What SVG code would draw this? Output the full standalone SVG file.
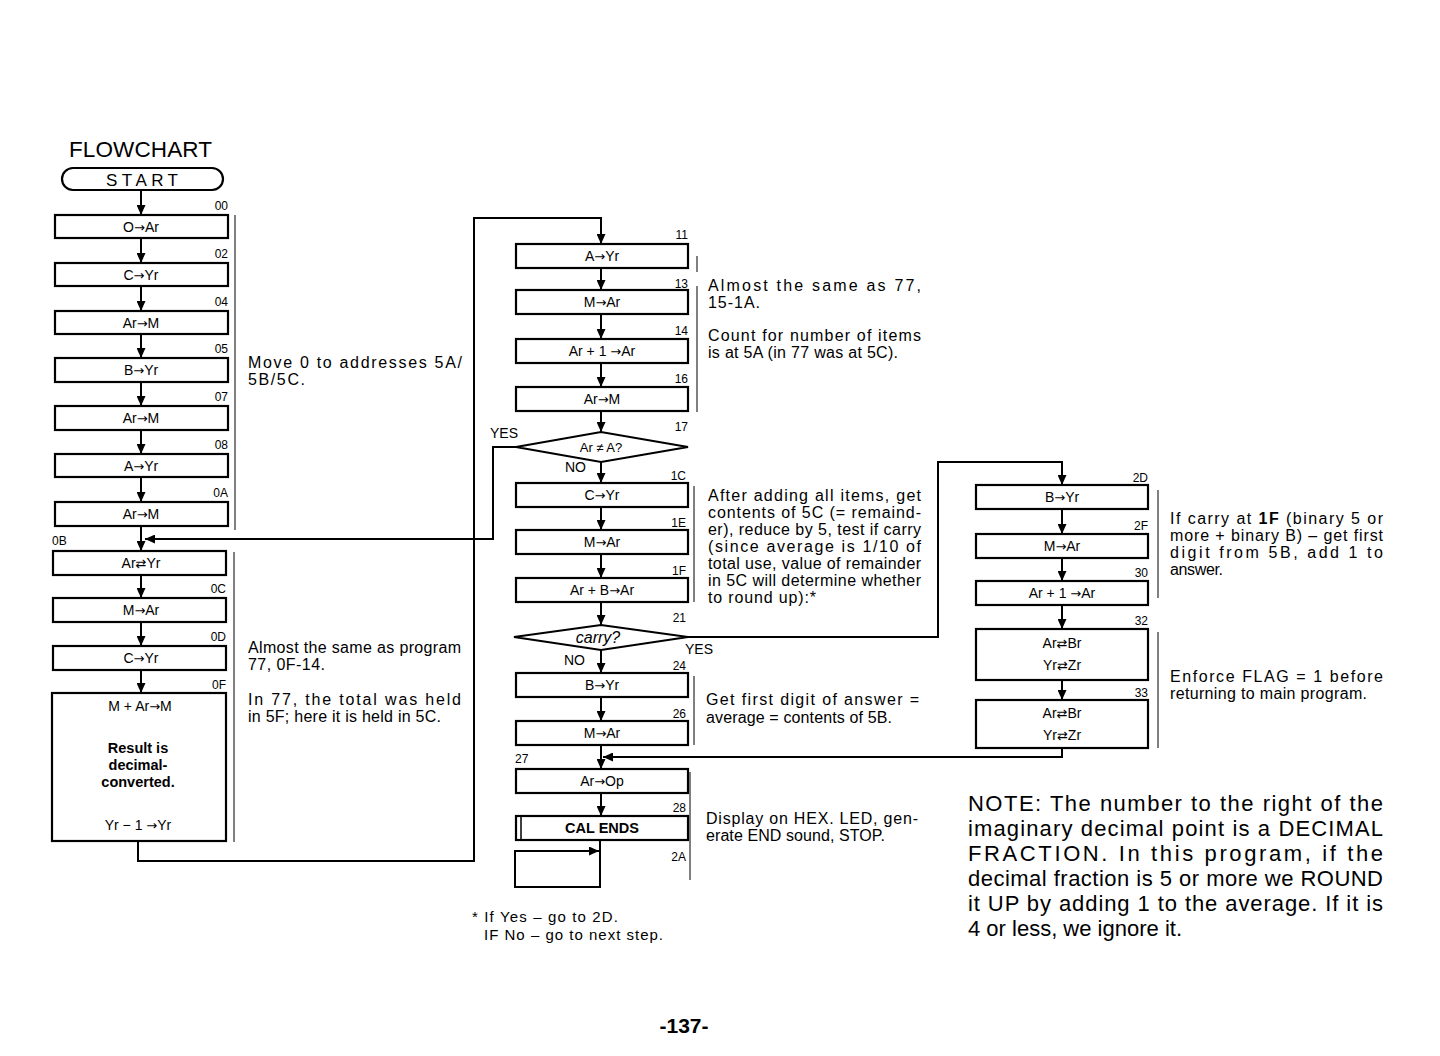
<svg xmlns="http://www.w3.org/2000/svg" width="1440" height="1056" viewBox="0 0 1440 1056">
<defs>
<marker id="ah" markerUnits="userSpaceOnUse" markerWidth="10" markerHeight="9" refX="10" refY="4.5" orient="auto">
<path d="M0,0 L10,4.5 L0,9 z" fill="#000"/>
</marker>
<style>
.bx{fill:#fff;stroke:#000;stroke-width:2.2}
.t{font-family:"Liberation Sans",Arial,sans-serif;font-size:14px;fill:#000;text-anchor:middle}
.ar{font-family:"DejaVu Sans",sans-serif;font-size:13px}
.b{font-weight:bold;font-size:14.5px}
.lb{font-family:"Liberation Sans",Arial,sans-serif;font-size:12px;fill:#000;text-anchor:end}
.lbs{font-family:"Liberation Sans",Arial,sans-serif;font-size:12px;fill:#000}
.yn{font-family:"Liberation Sans",Arial,sans-serif;font-size:14px;fill:#000}
.n{font-family:"Liberation Sans",Arial,sans-serif;font-size:16px;fill:#000}
.fn{font-family:"Liberation Sans",Arial,sans-serif;font-size:15px;fill:#000}
.note{font-family:"Liberation Sans",Arial,sans-serif;font-size:22px;fill:#000}
.c{fill:none;stroke:#000;stroke-width:2}
.ca{fill:none;stroke:#000;stroke-width:2;marker-end:url(#ah)}
.br{fill:none;stroke:#000;stroke-width:1}
</style>
</defs>
<rect width="1440" height="1056" fill="#fff"/>

<text x="69" y="157" font-family="Liberation Sans,Arial,sans-serif" font-size="22.5" textLength="143" lengthAdjust="spacing" fill="#000">FLOWCHART</text>

<g id="start">
<rect x="62" y="168" width="161" height="22" rx="11" class="bx"/>
<text x="142" y="186" class="t" style="font-size:17px" textLength="72" lengthAdjust="spacing">START</text>
</g>

<g id="n00"><rect x="55" y="215" width="173" height="23" class="bx"/><text x="141" y="232" class="t">O<tspan class="ar">→</tspan>Ar</text><text x="228" y="210" class="lb">00</text></g>
<g id="n02"><rect x="55" y="263" width="173" height="23" class="bx"/><text x="141" y="280" class="t">C<tspan class="ar">→</tspan>Yr</text><text x="228" y="258" class="lb">02</text></g>
<g id="n04"><rect x="55" y="311" width="173" height="23" class="bx"/><text x="141" y="328" class="t">Ar<tspan class="ar">→</tspan>M</text><text x="228" y="306" class="lb">04</text></g>
<g id="n05"><rect x="55" y="358" width="173" height="24" class="bx"/><text x="141" y="375" class="t">B<tspan class="ar">→</tspan>Yr</text><text x="228" y="353" class="lb">05</text></g>
<g id="n07"><rect x="55" y="406" width="173" height="24" class="bx"/><text x="141" y="423" class="t">Ar<tspan class="ar">→</tspan>M</text><text x="228" y="401" class="lb">07</text></g>
<g id="n08"><rect x="55" y="454" width="173" height="23" class="bx"/><text x="141" y="471" class="t">A<tspan class="ar">→</tspan>Yr</text><text x="228" y="449" class="lb">08</text></g>
<g id="n0A"><rect x="55" y="502" width="173" height="24" class="bx"/><text x="141" y="519" class="t">Ar<tspan class="ar">→</tspan>M</text><text x="228" y="497" class="lb">0A</text></g>
<g id="n0B"><rect x="53" y="551" width="173" height="24" class="bx"/><text x="141" y="568" class="t">Ar<tspan class="ar">⇄</tspan>Yr</text><text x="52" y="545" class="lbs">0B</text></g>
<g id="n0C"><rect x="53" y="598" width="173" height="24" class="bx"/><text x="141" y="615" class="t">M<tspan class="ar">→</tspan>Ar</text><text x="226" y="593" class="lb">0C</text></g>
<g id="n0D"><rect x="53" y="646" width="173" height="24" class="bx"/><text x="141" y="663" class="t">C<tspan class="ar">→</tspan>Yr</text><text x="226" y="641" class="lb">0D</text></g>
<g id="n0F">
<rect x="52" y="693" width="174" height="148" class="bx"/>
<text x="140" y="711" class="t">M + Ar<tspan class="ar">→</tspan>M</text>
<text x="138" y="753" class="t b">Result is</text>
<text x="138" y="770" class="t b">decimal-</text>
<text x="138" y="787" class="t b">converted.</text>
<text x="138" y="830" class="t">Yr − 1 <tspan class="ar">→</tspan>Yr</text>
<text x="226" y="689" class="lb">0F</text>
</g>

<g id="n11"><rect x="516" y="244" width="172" height="24" class="bx"/><text x="602" y="261" class="t">A<tspan class="ar">→</tspan>Yr</text><text x="688" y="239" class="lb">11</text></g>
<g id="n13"><rect x="516" y="290" width="172" height="24" class="bx"/><text x="602" y="307" class="t">M<tspan class="ar">→</tspan>Ar</text><text x="688" y="288" class="lb">13</text></g>
<g id="n14"><rect x="516" y="339" width="172" height="24" class="bx"/><text x="602" y="356" class="t">Ar + 1 <tspan class="ar">→</tspan>Ar</text><text x="688" y="335" class="lb">14</text></g>
<g id="n16"><rect x="516" y="387" width="172" height="24" class="bx"/><text x="602" y="404" class="t">Ar<tspan class="ar">→</tspan>M</text><text x="688" y="383" class="lb">16</text></g>
<g id="n17">
<polygon points="516,447 601,432 688,447 601,462" class="bx"/>
<text x="601" y="452" class="t" style="font-size:13px">Ar ≠ A?</text>
<text x="688" y="431" class="lb">17</text>
<text x="490" y="438" class="yn">YES</text>
<text x="565" y="472" class="yn">NO</text>
</g>
<g id="n1C"><rect x="516" y="483" width="172" height="24" class="bx"/><text x="602" y="500" class="t">C<tspan class="ar">→</tspan>Yr</text><text x="686" y="480" class="lb">1C</text></g>
<g id="n1E"><rect x="516" y="530" width="172" height="24" class="bx"/><text x="602" y="547" class="t">M<tspan class="ar">→</tspan>Ar</text><text x="686" y="527" class="lb">1E</text></g>
<g id="n1F"><rect x="516" y="578" width="172" height="24" class="bx"/><text x="602" y="595" class="t">Ar + B<tspan class="ar">→</tspan>Ar</text><text x="686" y="575" class="lb">1F</text></g>
<g id="n21">
<polygon points="514,637 601,625 688,637 601,650" class="bx"/>
<text x="598" y="643" class="t" style="font-size:16px;font-style:italic">carry?</text>
<text x="686" y="622" class="lb">21</text>
<text x="685" y="654" class="yn">YES</text>
<text x="564" y="665" class="yn">NO</text>
</g>
<g id="n24"><rect x="516" y="673" width="172" height="24" class="bx"/><text x="602" y="690" class="t">B<tspan class="ar">→</tspan>Yr</text><text x="686" y="670" class="lb">24</text></g>
<g id="n26"><rect x="516" y="721" width="172" height="24" class="bx"/><text x="602" y="738" class="t">M<tspan class="ar">→</tspan>Ar</text><text x="686" y="718" class="lb">26</text></g>
<g id="n27"><rect x="516" y="769" width="172" height="24" class="bx"/><text x="602" y="786" class="t">Ar<tspan class="ar">→</tspan>Op</text><text x="515" y="763" class="lbs">27</text></g>
<g id="n28"><rect x="516" y="816" width="172" height="24" class="bx"/><line x1="521" y1="817" x2="521" y2="839" stroke="#000" stroke-width="1.5"/><text x="602" y="833" class="t b">CAL ENDS</text><text x="686" y="812" class="lb">28</text></g>
<g id="n2A"><text x="686" y="861" class="lb">2A</text></g>

<g id="n2D"><rect x="976" y="485" width="172" height="24" class="bx"/><text x="1062" y="502" class="t">B<tspan class="ar">→</tspan>Yr</text><text x="1148" y="482" class="lb">2D</text></g>
<g id="n2F"><rect x="976" y="534" width="172" height="24" class="bx"/><text x="1062" y="551" class="t">M<tspan class="ar">→</tspan>Ar</text><text x="1148" y="530" class="lb">2F</text></g>
<g id="n30"><rect x="976" y="581" width="172" height="24" class="bx"/><text x="1062" y="598" class="t">Ar + 1 <tspan class="ar">→</tspan>Ar</text><text x="1148" y="577" class="lb">30</text></g>
<g id="n32"><rect x="976" y="629" width="172" height="51" class="bx"/><text x="1062" y="648" class="t">Ar<tspan class="ar">⇄</tspan>Br</text><text x="1062" y="670" class="t">Yr<tspan class="ar">⇄</tspan>Zr</text><text x="1148" y="625" class="lb">32</text></g>
<g id="n33"><rect x="976" y="700" width="172" height="48" class="bx"/><text x="1062" y="718" class="t">Ar<tspan class="ar">⇄</tspan>Br</text><text x="1062" y="740" class="t">Yr<tspan class="ar">⇄</tspan>Zr</text><text x="1148" y="697" class="lb">33</text></g>

<g id="connectors">
<line x1="141" y1="190" x2="141" y2="215" class="ca"/>
<line x1="141" y1="238" x2="141" y2="263" class="ca"/>
<line x1="141" y1="286" x2="141" y2="311" class="ca"/>
<line x1="141" y1="334" x2="141" y2="358" class="ca"/>
<line x1="141" y1="382" x2="141" y2="406" class="ca"/>
<line x1="141" y1="430" x2="141" y2="454" class="ca"/>
<line x1="141" y1="477" x2="141" y2="502" class="ca"/>
<line x1="141" y1="526" x2="141" y2="551" class="ca"/>
<line x1="141" y1="575" x2="141" y2="598" class="ca"/>
<line x1="141" y1="622" x2="141" y2="646" class="ca"/>
<line x1="141" y1="670" x2="141" y2="693" class="ca"/>
<polyline points="138,841 138,861 474,861 474,218 601,218 601,244" class="ca"/>
<line x1="601" y1="268" x2="601" y2="290" class="ca"/>
<line x1="601" y1="314" x2="601" y2="339" class="ca"/>
<line x1="601" y1="363" x2="601" y2="387" class="ca"/>
<line x1="601" y1="411" x2="601" y2="432" class="ca"/>
<polyline points="516,447 493,447 493,539 145,539" class="ca"/>
<line x1="601" y1="462" x2="601" y2="483" class="ca"/>
<line x1="601" y1="507" x2="601" y2="530" class="ca"/>
<line x1="601" y1="554" x2="601" y2="578" class="ca"/>
<line x1="601" y1="602" x2="601" y2="625" class="ca"/>
<polyline points="688,637 938,637 938,462 1062,462 1062,485" class="ca"/>
<line x1="601" y1="650" x2="601" y2="673" class="ca"/>
<line x1="601" y1="697" x2="601" y2="721" class="ca"/>
<line x1="601" y1="745" x2="601" y2="769" class="ca"/>
<line x1="601" y1="793" x2="601" y2="816" class="ca"/>
<polyline points="600,840 600,887 515,887 515,851 599,851" class="ca"/>
<line x1="1062" y1="509" x2="1062" y2="534" class="ca"/>
<line x1="1062" y1="558" x2="1062" y2="581" class="ca"/>
<line x1="1062" y1="605" x2="1062" y2="629" class="ca"/>
<line x1="1062" y1="680" x2="1062" y2="700" class="ca"/>
<polyline points="1062,748 1062,757 603,757" class="ca"/>
</g>

<g id="brackets">
<line x1="235" y1="215" x2="235" y2="530" class="br"/>
<line x1="234" y1="552" x2="234" y2="842" class="br"/>
<line x1="697" y1="256" x2="697" y2="272" class="br"/>
<line x1="697" y1="286" x2="697" y2="412" class="br"/>
<line x1="694" y1="486" x2="694" y2="602" class="br"/>
<line x1="694" y1="676" x2="694" y2="745" class="br"/>
<line x1="690" y1="772" x2="690" y2="880" class="br"/>
<line x1="1158" y1="490" x2="1158" y2="598" class="br"/>
<line x1="1158" y1="632" x2="1158" y2="748" class="br"/>
</g>

<g id="notes">
<text x="248" y="368" class="n" textLength="214" lengthAdjust="spacing">Move 0 to addresses 5A/</text>
<text x="248" y="385" class="n" textLength="57" lengthAdjust="spacing">5B/5C.</text>
<text x="248" y="653" class="n" textLength="213" lengthAdjust="spacing">Almost the same as program</text>
<text x="248" y="670" class="n" textLength="77" lengthAdjust="spacing">77, 0F-14.</text>
<text x="248" y="705" class="n" textLength="213" lengthAdjust="spacing">In 77, the total was held</text>
<text x="248" y="722" class="n" textLength="193" lengthAdjust="spacing">in 5F; here it is held in 5C.</text>

<text x="708" y="291" class="n" textLength="213" lengthAdjust="spacing">Almost the same as 77,</text>
<text x="708" y="308" class="n" textLength="52" lengthAdjust="spacing">15-1A.</text>
<text x="708" y="341" class="n" textLength="213" lengthAdjust="spacing">Count for number of items</text>
<text x="708" y="358" class="n" textLength="190" lengthAdjust="spacing">is at 5A (in 77 was at 5C).</text>

<text x="708" y="501" class="n" textLength="213" lengthAdjust="spacing">After adding all items, get</text>
<text x="708" y="518" class="n" textLength="213" lengthAdjust="spacing">contents of 5C (= remaind-</text>
<text x="708" y="535" class="n" textLength="213" lengthAdjust="spacing">er), reduce by 5, test if carry</text>
<text x="708" y="552" class="n" textLength="213" lengthAdjust="spacing">(since average is 1/10 of</text>
<text x="708" y="569" class="n" textLength="213" lengthAdjust="spacing">total use, value of remainder</text>
<text x="708" y="586" class="n" textLength="213" lengthAdjust="spacing">in 5C will determine whether</text>
<text x="708" y="603" class="n" textLength="108" lengthAdjust="spacing">to round up):*</text>

<text x="706" y="705" class="n" textLength="213" lengthAdjust="spacing">Get first digit of answer =</text>
<text x="706" y="723" class="n" textLength="186" lengthAdjust="spacing">average = contents of 5B.</text>

<text x="706" y="824" class="n" textLength="212" lengthAdjust="spacing">Display on HEX. LED, gen-</text>
<text x="706" y="841" class="n" textLength="179" lengthAdjust="spacing">erate END sound, STOP.</text>

<text x="1170" y="524" class="n" textLength="213" lengthAdjust="spacing">If carry at <tspan font-weight="bold">1F</tspan> (binary 5 or</text>
<text x="1170" y="541" class="n" textLength="213" lengthAdjust="spacing">more + binary B) – get first</text>
<text x="1170" y="558" class="n" textLength="213" lengthAdjust="spacing">digit from 5B, add 1 to</text>
<text x="1170" y="575" class="n" textLength="53" lengthAdjust="spacing">answer.</text>
<text x="1170" y="682" class="n" textLength="213" lengthAdjust="spacing">Enforce FLAG = 1 before</text>
<text x="1170" y="699" class="n" textLength="197" lengthAdjust="spacing">returning to main program.</text>

<text x="472" y="922" class="fn" textLength="146" lengthAdjust="spacing">* If Yes – go to 2D.</text>
<text x="484" y="940" class="fn" textLength="179" lengthAdjust="spacing">IF No – go to next step.</text>

<text x="968" y="811" class="note" textLength="415" lengthAdjust="spacing">NOTE: The number to the right of the</text>
<text x="968" y="836" class="note" textLength="415" lengthAdjust="spacing">imaginary decimal point is a DECIMAL</text>
<text x="968" y="861" class="note" textLength="415" lengthAdjust="spacing">FRACTION. In this program, if the</text>
<text x="968" y="886" class="note" textLength="415" lengthAdjust="spacing">decimal fraction is 5 or more we ROUND</text>
<text x="968" y="911" class="note" textLength="415" lengthAdjust="spacing">it UP by adding 1 to the average. If it is</text>
<text x="968" y="936" class="note" textLength="214" lengthAdjust="spacing">4 or less, we ignore it.</text>

<text x="684" y="1033" font-family="Liberation Sans,Arial,sans-serif" font-size="21" font-weight="bold" text-anchor="middle" fill="#000">-137-</text>
</g>
</svg>
